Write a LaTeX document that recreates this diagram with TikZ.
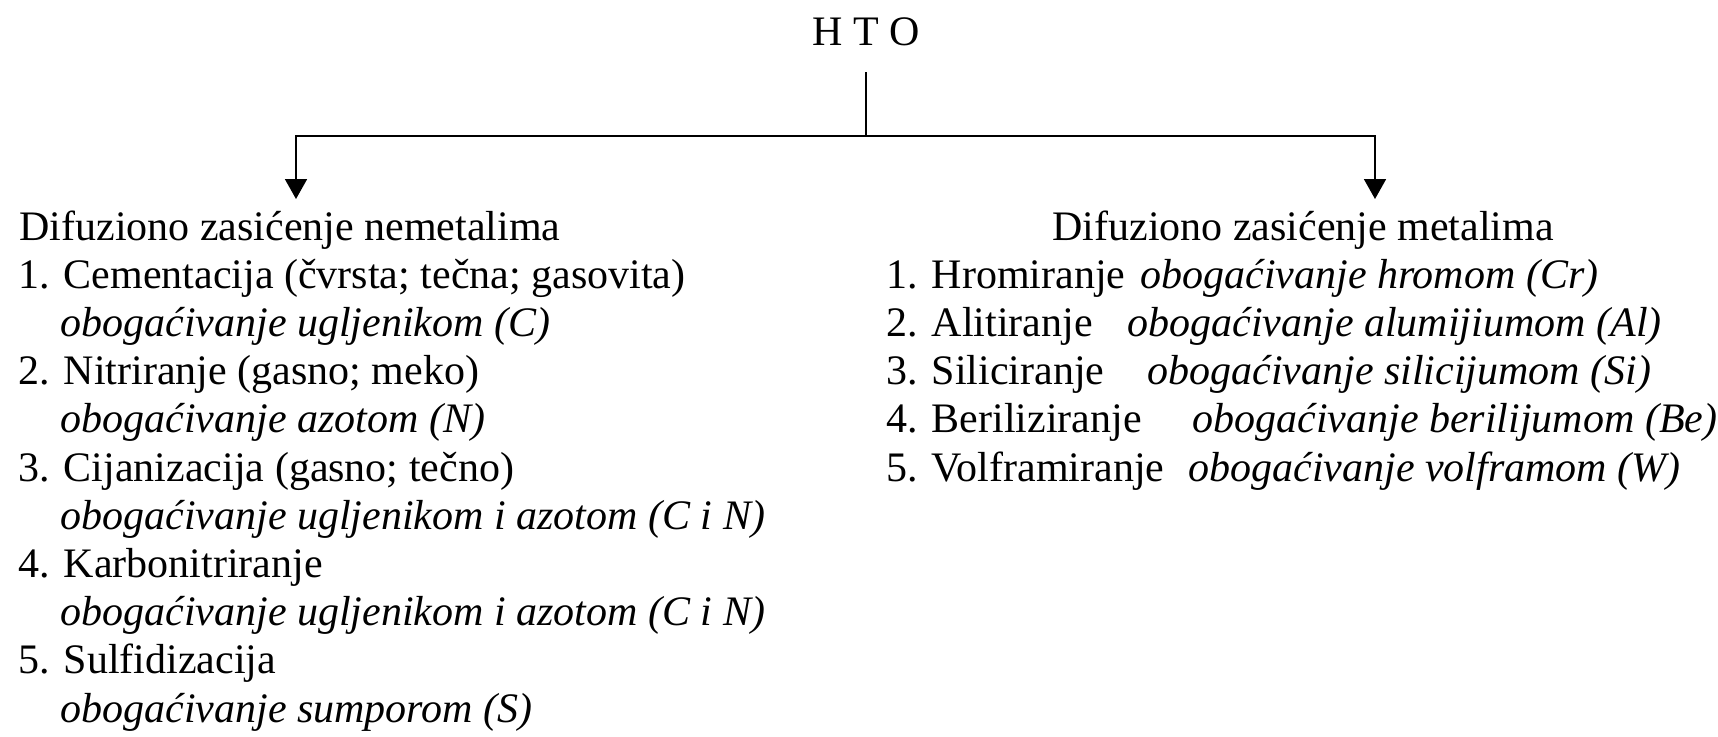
\documentclass[tikz,border=0pt]{standalone}
\usepackage{fontspec}
\setmainfont{Liberation Serif}
\usetikzlibrary{arrows.meta}

\begin{document}
\begin{tikzpicture}[x=0.5pt, y=-0.5pt,
    tx/.style={anchor=base west, inner sep=0pt, font=\fontsize{21}{25}\selectfont},
    it/.style={tx, font=\fontsize{21}{25}\selectfont\itshape},
    ln/.style={line width=0.9pt},
    ar/.style={ln, -{Triangle[length=10pt, width=11pt]}}
    ]
    \useasboundingbox (0,0) rectangle (1718,736);
    \node[tx, anchor=base] (hto) at (866,45) {H T O};
    \coordinate (tp) at (866,72);
    \coordinate (jn) at (866,136);
    \coordinate (la) at (296,199);
    \coordinate (ra) at (1375,199);
    \draw[ln] (tp) -- (jn);
    \draw[ar] (jn) -| (la);
    \draw[ar] (jn) -| (ra);
    % nemetali
    \node[tx] (nemet) at (19,240) {Difuziono zasićenje nemetalima};
    \node[tx] (cem)   at (18,288.2) {1. Cementacija (čvrsta; tečna; gasovita)};
    \node[it] (cemO)  at (60,336.4) {obogaćivanje ugljenikom (C)};
    \node[tx] (nit)   at (18,384.6) {2. Nitriranje (gasno; meko)};
    \node[it] (nitO)  at (60,432.8) {obogaćivanje azotom (N)};
    \node[tx] (cij)   at (18,481) {3. Cijanizacija (gasno; tečno)};
    \node[it] (cijO)  at (60,529.2) {obogaćivanje ugljenikom i azotom (C i N)};
    \node[tx] (kar)   at (18,577.4) {4. Karbonitriranje};
    \node[it] (karO)  at (60,625.6) {obogaćivanje ugljenikom i azotom (C i N)};
    \node[tx] (sul)   at (18,673.8) {5. Sulfidizacija};
    \node[it] (sulO)  at (60,722) {obogaćivanje sumporom (S)};
    % metali
    \node[tx] (metal) at (1052,240) {Difuziono zasićenje metalima};
    \node[tx] (hro)   at (886,288.2) {1. Hromiranje};
    \node[it] (hroO)  at (1140,288.2) {obogaćivanje hromom (Cr)};
    \node[tx] (ali)   at (886,336.4) {2. Alitiranje};
    \node[it] (aliO)  at (1127,336.4) {obogaćivanje alumijiumom (Al)};
    \node[tx] (sil)   at (886,384.6) {3. Siliciranje};
    \node[it] (silO)  at (1147,384.6) {obogaćivanje silicijumom (Si)};
    \node[tx] (ber)   at (886,432.8) {4. Beriliziranje};
    \node[it] (berO)  at (1192,432.8) {obogaćivanje berilijumom (Be)};
    \node[tx] (vol)   at (886,481) {5. Volframiranje};
    \node[it] (volO)  at (1188,481) {obogaćivanje volframom (W)};
\end{tikzpicture}
\end{document}
